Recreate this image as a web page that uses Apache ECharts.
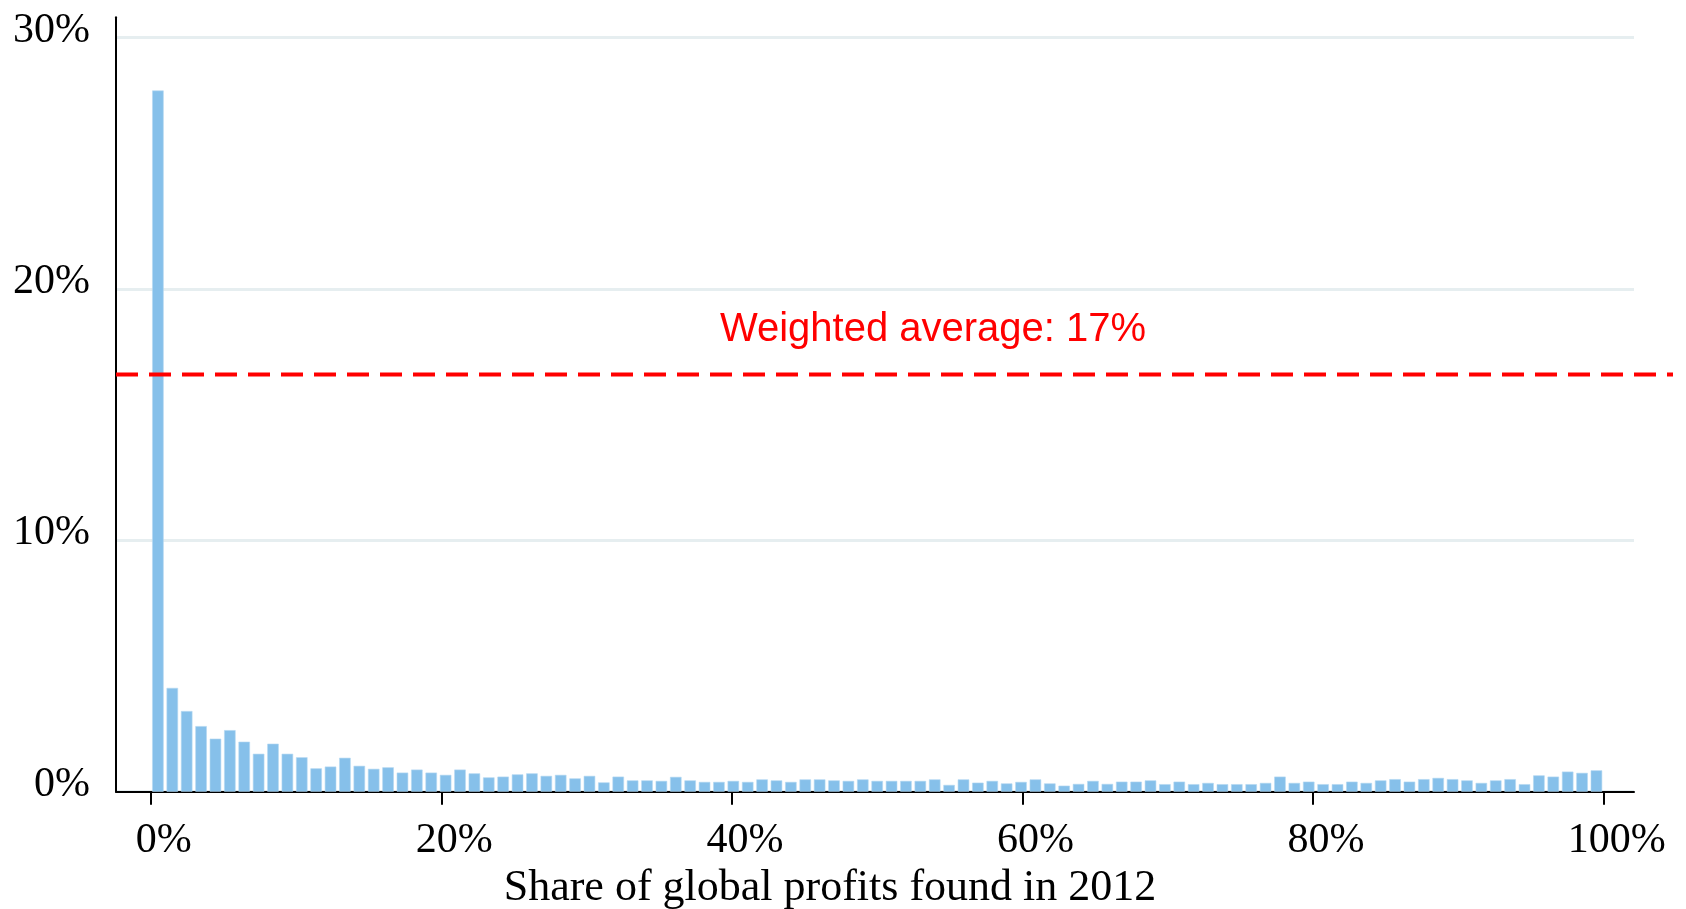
<!DOCTYPE html>
<html>
<head>
<meta charset="utf-8">
<script src="https://cdn.jsdelivr.net/npm/echarts@6/dist/echarts.min.js"></script>
<style>
  html, body { margin: 0; padding: 0; background: #ffffff; }
  #chart { width: 1686px; height: 909px; }
</style>
</head>
<body>
<div id="chart"></div>
<script>
// Share of firms (%) by share of global profits found in 2012 (101 equal bins over 0–100%)
const binCount = 101;
const shares = [
  27.9, 4.13, 3.21, 2.61, 2.11, 2.45, 1.99, 1.51, 1.91, 1.51,
  1.37, 0.93, 1.00, 1.35, 1.03, 0.91, 0.97, 0.76, 0.88, 0.76,
  0.67, 0.88, 0.73, 0.57, 0.60, 0.69, 0.73, 0.63, 0.67, 0.53,
  0.63, 0.37, 0.60, 0.45, 0.45, 0.43, 0.59, 0.45, 0.39, 0.39,
  0.43, 0.39, 0.49, 0.45, 0.39, 0.49, 0.49, 0.45, 0.43, 0.49,
  0.43, 0.43, 0.43, 0.43, 0.49, 0.27, 0.49, 0.36, 0.43, 0.33,
  0.39, 0.49, 0.33, 0.24, 0.31, 0.43, 0.31, 0.40, 0.40, 0.45,
  0.30, 0.40, 0.30, 0.35, 0.30, 0.30, 0.30, 0.35, 0.60, 0.35,
  0.40, 0.30, 0.30, 0.40, 0.35, 0.45, 0.50, 0.40, 0.50, 0.55,
  0.50, 0.45, 0.35, 0.45, 0.50, 0.30, 0.65, 0.60, 0.80, 0.75,
  0.85
];
const weightedAverage = 16.6;
const averageLabel = 'Weighted average: 17%';
const xTickValues = [0, 20, 40, 60, 80, 100];
const yTickValues = [0, 10, 20, 30];
const xTitle = 'Share of global profits found in 2012';

const binWidth = 100 / binCount;
const barData = shares.map((v, i) => [(i + 0.5) * binWidth, v]);

const serif = '"Liberation Serif", "DejaVu Serif", serif';
const chart = echarts.init(document.getElementById('chart'), null, { renderer: 'canvas' });

chart.setOption({
  animation: false,
  backgroundColor: '#ffffff',
  grid: [
    { left: 116, right: 52, top: 37.7, bottom: 117.3, containLabel: false, outerBoundsMode: 'none' },
    { left: 116, right: 13, top: 17.3, bottom: 117.3, containLabel: false, outerBoundsMode: 'none' }
  ],
  xAxis: [
    {
      gridIndex: 0, type: 'value', min: -2.39, max: 102.09,
      axisLine: { show: true, onZero: false, lineStyle: { color: '#000', width: 2 } },
      axisTick: { show: true, length: 13, lineStyle: { color: '#000', width: 2 }, customValues: xTickValues },
      axisLabel: {
        customValues: xTickValues,
        formatter: v => Math.round(v) + '%',
        fontFamily: serif, fontSize: 42, color: '#000', margin: 28,
        padding: [0, 0, 0, 26]
      },
      splitLine: { show: false },
      name: xTitle, nameLocation: 'middle', nameGap: 64,
      nameTextStyle: { fontFamily: serif, fontSize: 44, color: '#000', padding: [0, 90, 0, 0] }
    },
    { gridIndex: 1, type: 'value', min: 0, max: 1, show: false }
  ],
  yAxis: [
    {
      gridIndex: 0, type: 'value', min: 0, max: 30, interval: 10,
      axisLine: { show: false },
      axisTick: { show: false },
      axisLabel: {
        customValues: yTickValues,
        formatter: v => v + '%',
        fontFamily: serif, fontSize: 42, color: '#000', margin: 26,
        verticalAlign: 'bottom', lineHeight: 14
      },
      splitLine: { show: true, lineStyle: { color: '#E6EEF0', width: 3 } }
    },
    {
      gridIndex: 1, type: 'value', min: 0, max: 30.81,
      axisLine: { show: true, onZero: false, lineStyle: { color: '#000', width: 2 } },
      axisTick: { show: false }, axisLabel: { show: false }, splitLine: { show: false }
    }
  ],
  series: [
    {
      type: 'bar', xAxisIndex: 0, yAxisIndex: 0,
      data: barData, barWidth: 11.5,
      itemStyle: { color: '#86C0EA', borderColor: '#B5D8F2', borderWidth: 0.6 },
      z: 3
    },
    {
      type: 'line', xAxisIndex: 1, yAxisIndex: 1,
      data: [[0, weightedAverage], [1, weightedAverage]],
      showSymbol: false, symbol: 'none',
      lineStyle: { color: '#FF0000', width: 4, type: [22, 11] },
      z: 5,
      markLine: {
        silent: true, symbol: 'none',
        lineStyle: { color: 'rgba(0,0,0,0)', width: 0 },
        data: [{ yAxis: weightedAverage }],
        label: {
          show: true, position: 'insideMiddleTop', distance: 24,
          formatter: averageLabel,
          fontFamily: '"Liberation Sans", Arial, sans-serif', fontSize: 40, color: '#FF0000',
          padding: [0, 0, 0, 77]
        }
      }
    }
  ]
});
</script>
</body>
</html>
